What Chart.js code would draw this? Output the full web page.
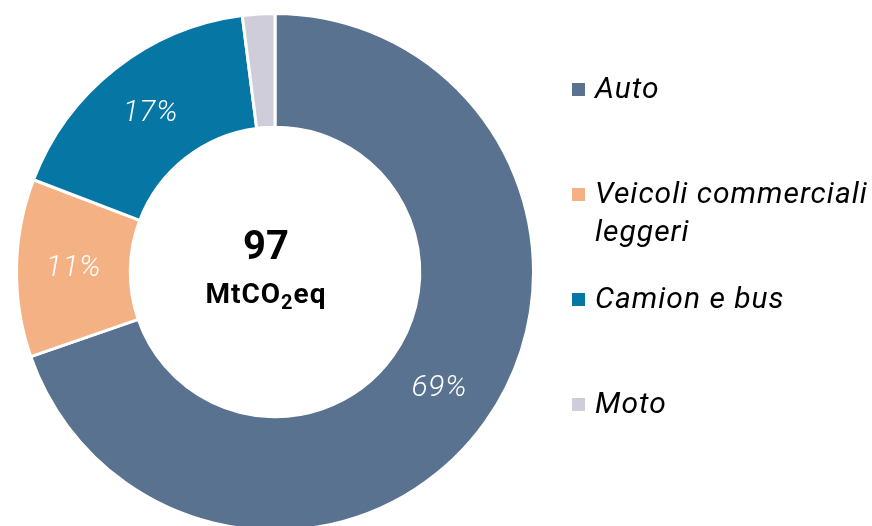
<!DOCTYPE html>
<html>
<head>
<meta charset="utf-8">
<script src="https://cdn.jsdelivr.net/npm/chart.js@4"></script>
<style>
  html, body { margin: 0; padding: 0; background: #fff; overflow: hidden; }
  #box { position: relative; width: 872px; height: 526px; overflow: hidden; }
  #grafico { position: absolute; left: 0; top: 0; }
</style>
</head>
<body>
<div id="box">
  <canvas id="grafico" width="872" height="544"></canvas>
</div>
<script>
// dati
const categorie = ['Auto', ['Veicoli commerciali', 'leggeri'], 'Camion e bus', 'Moto'];
const valori = [69, 11, 17, 2];
const etichette = ['69%', '11%', '17%', ''];
const colori = ['#58728f', '#f4b183', '#0677a5', '#cfcdd9'];
const totale = '97';

// testo al centro + legenda a destra
const pluginTesti = {
    id: 'testi',
    afterDraw(chart) {
        const ctx = chart.ctx;
        const meta = chart.getDatasetMeta(0);

        // percentuali dentro le fette
        ctx.save();
        ctx.fillStyle = '#ffffff';
        ctx.font = 'italic 300 30px Roboto';
        ctx.letterSpacing = '0.5px';
        ctx.textAlign = 'center';
        ctx.textBaseline = 'middle';
        meta.data.forEach((arc, i) => {
            if (!etichette[i]) return;
            const p = arc.getCenterPoint();
            ctx.fillText(etichette[i], p.x, p.y);
        });
        ctx.restore();

        // totale al centro
        const cx = meta.data[0].x - 9;
        ctx.save();
        ctx.fillStyle = '#000';
        ctx.textBaseline = 'alphabetic';
        ctx.textAlign = 'center';
        ctx.font = 'bold 40px Roboto';
        ctx.fillText(totale, cx, 259);

        ctx.letterSpacing = '1px';
        const f1 = 'bold 28px Roboto', f2 = 'bold 20px Roboto';
        ctx.font = f1;
        const w1 = ctx.measureText('MtCO').width;
        const w3 = ctx.measureText('eq').width;
        ctx.font = f2;
        const w2 = ctx.measureText('2').width;
        let x = cx - (w1 + w2 + w3) / 2;
        ctx.textAlign = 'left';
        ctx.font = f1;
        ctx.fillText('MtCO', x, 303);
        x += w1;
        ctx.font = f2;
        ctx.fillText('2', x, 309);
        x += w2;
        ctx.font = f1;
        ctx.fillText('eq', x, 303);
        ctx.restore();

        // legenda
        ctx.save();
        ctx.font = 'italic 30px Roboto';
        ctx.letterSpacing = '1px';
        ctx.textAlign = 'left';
        ctx.textBaseline = 'alphabetic';
        categorie.forEach((c, i) => {
            const base = 98 + i * 105;
            ctx.fillStyle = colori[i];
            ctx.fillRect(572, base - 15, 13, 13);
            ctx.fillStyle = '#000';
            const righe = Array.isArray(c) ? c : [c];
            righe.forEach((r, j) => ctx.fillText(r, 595, base + j * 38));
        });
        ctx.restore();
    }
};

new Chart(document.getElementById('grafico'), {
    type: 'doughnut',
    data: {
        labels: categorie,
        datasets: [{
            data: valori,
            backgroundColor: colori,
            borderColor: '#ffffff',
            borderWidth: 3
        }]
    },
    options: {
        responsive: false,
        animation: false,
        cutout: '56%',
        layout: { padding: { left: 15, top: 12, right: 337, bottom: 12 } },
        plugins: {
            legend: { display: false },
            tooltip: { enabled: false }
        }
    },
    plugins: [pluginTesti]
});
</script>
</body>
</html>
